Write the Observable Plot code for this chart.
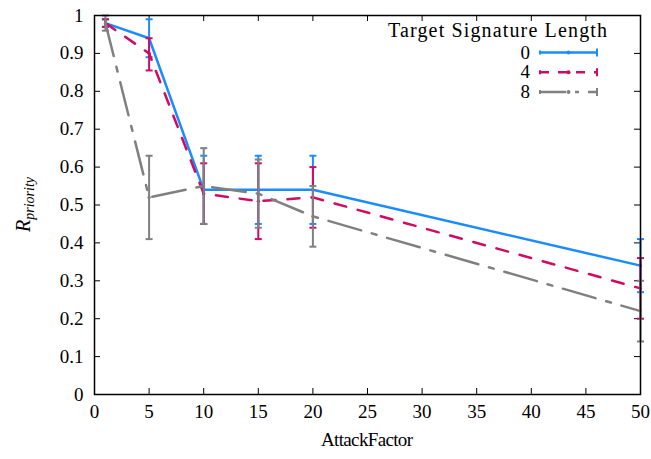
<!DOCTYPE html>
<html><head><meta charset="utf-8">
<script src="https://cdn.jsdelivr.net/npm/d3@7"></script>
<script src="https://cdn.jsdelivr.net/npm/@observablehq/plot@0.6"></script>
<style>
body{margin:0;background:#fff}
#chart{width:651px;height:459px}
</style></head><body><div id="chart"></div>
<script>
const attackFactor = [1, 5, 10, 15, 20, 50];
const seriesNames = ["0", "4", "8"];
const mean0 = [0.98, 0.94, 0.54, 0.54, 0.54, 0.34];
const lo0   = [0.97, 0.89, 0.45, 0.45, 0.45, 0.27];
const hi0   = [0.99, 0.99, 0.63, 0.63, 0.63, 0.41];
const mean4 = [0.98, 0.90, 0.53, 0.51, 0.52, 0.28];
const lo4   = [0.97, 0.855, 0.45, 0.41, 0.44, 0.20];
const hi4   = [0.99, 0.94, 0.61, 0.61, 0.60, 0.36];
const mean8 = [0.98, 0.52, 0.55, 0.53, 0.47, 0.22];
const lo8   = [0.96, 0.41, 0.45, 0.44, 0.39, 0.14];
const hi8   = [1.00, 0.63, 0.65, 0.62, 0.55, 0.30];
const xTicks = [0, 5, 10, 15, 20, 25, 30, 35, 40, 45, 50];
const yTicks = [0, 0.1, 0.2, 0.3, 0.4, 0.5, 0.6, 0.7, 0.8, 0.9, 1];
const legendTitle = "Target Signature Length";
const xLabel = "AttackFactor";

const colors = ["#1a8cff", "#d10a63", "#808080"];
const dashes = [null, "12,12", "34,11,5,11"];
const legendDashes = [null, "9,9", "26,9,4,9"];
const means = [mean0, mean4, mean8], los = [lo0, lo4, lo8], his = [hi0, hi4, hi8];

const W = 651, H = 459, mL = 94, mR = 11, mT = 15, mB = 65;
const pw = W - mL - mR, ph = H - mT - mB;
const FONT = "'Liberation Serif', serif";

const capSymbol = {draw(ctx) { ctx.moveTo(-3.5, 0); ctx.lineTo(3.5, 0); }};

const marks = [];
seriesNames.forEach((name, i) => {
  const rows = attackFactor.map((x, j) => ({x, y: means[i][j], lo: los[i][j], hi: his[i][j]}));
  marks.push(
    Plot.line(rows, {x: "x", y: "y", stroke: colors[i], strokeWidth: 2.5, strokeDasharray: dashes[i]}),
    Plot.ruleX(rows, {x: "x", y1: "lo", y2: "hi", stroke: colors[i], strokeWidth: 2}),
    Plot.dot(rows, {x: "x", y: "lo", symbol: capSymbol, stroke: colors[i], strokeWidth: 2, fill: "none"}),
    Plot.dot(rows, {x: "x", y: "hi", symbol: capSymbol, stroke: colors[i], strokeWidth: 2, fill: "none"}),
    Plot.dot(rows, {x: "x", y: "y", r: 1.6, fill: colors[i], stroke: "none"})
  );
});

const chart = Plot.plot({
  width: W, height: H,
  marginLeft: mL, marginRight: mR, marginTop: mT, marginBottom: mB,
  style: {fontFamily: FONT, fontSize: "19px", background: "#fff", color: "#000"},
  x: {domain: [0, 50]},
  y: {domain: [0, 1]},
  marks: [
    Plot.tickX(xTicks, {x: d => d, insetTop: ph - 6, stroke: "#000", strokeWidth: 1}),
    Plot.tickX(xTicks, {x: d => d, insetBottom: ph - 6, stroke: "#000", strokeWidth: 1}),
    Plot.tickY(yTicks, {y: d => d, insetRight: pw - 6, stroke: "#000", strokeWidth: 1}),
    Plot.tickY(yTicks, {y: d => d, insetLeft: pw - 6, stroke: "#000", strokeWidth: 1}),
    Plot.axisX(xTicks, {tickSize: 0, tickPadding: 10, label: null, fontSize: 19, tickFormat: d => String(d)}),
    Plot.axisY(yTicks, {tickSize: 0, tickPadding: 11, label: null, fontSize: 19, tickFormat: d => String(d)}),
    ...marks,
    Plot.frame({stroke: "#000", strokeWidth: 1.5})
  ]
});
document.getElementById("chart").appendChild(chart);

const svg = d3.select(chart);
// axis titles
svg.append("text").attr("x", mL + pw / 2).attr("y", 446).attr("text-anchor", "middle")
  .attr("textLength", 92).attr("lengthAdjust", "spacing")
  .style("font-family", FONT).style("font-size", "19px").text(xLabel);
const yl = svg.append("text").attr("transform", `translate(30,${mT + ph / 2}) rotate(-90)`)
  .attr("text-anchor", "middle").style("font-family", FONT).style("font-style", "italic");
yl.append("tspan").style("font-size", "20px").text("R");
yl.append("tspan").attr("dy", 4).style("font-size", "14px").text("priority");

// legend
const lg = svg.append("g").style("font-family", FONT).style("font-size", "19px");
lg.append("text").attr("x", 388).attr("y", 37).attr("text-anchor", "start")
  .attr("textLength", 219).attr("lengthAdjust", "spacing")
  .style("font-size", "20px").text(legendTitle);
seriesNames.forEach((name, i) => {
  const yy = 52.5 + i * 19.8;
  lg.append("text").attr("x", 530).attr("y", yy + 6).attr("text-anchor", "end").text(name);
  lg.append("line").attr("x1", 540).attr("x2", 597).attr("y1", yy).attr("y2", yy)
    .attr("stroke", colors[i]).attr("stroke-width", 2.5).attr("stroke-dasharray", legendDashes[i]);
  lg.append("line").attr("x1", 597).attr("x2", 597).attr("y1", yy - 4).attr("y2", yy + 4)
    .attr("stroke", colors[i]).attr("stroke-width", 2);
  lg.append("line").attr("x1", 540).attr("x2", 540).attr("y1", yy - 2).attr("y2", yy + 2)
    .attr("stroke", colors[i]).attr("stroke-width", 2);
  lg.append("circle").attr("cx", 568.5).attr("cy", yy).attr("r", 2).attr("fill", colors[i]);
});
</script></body></html>
